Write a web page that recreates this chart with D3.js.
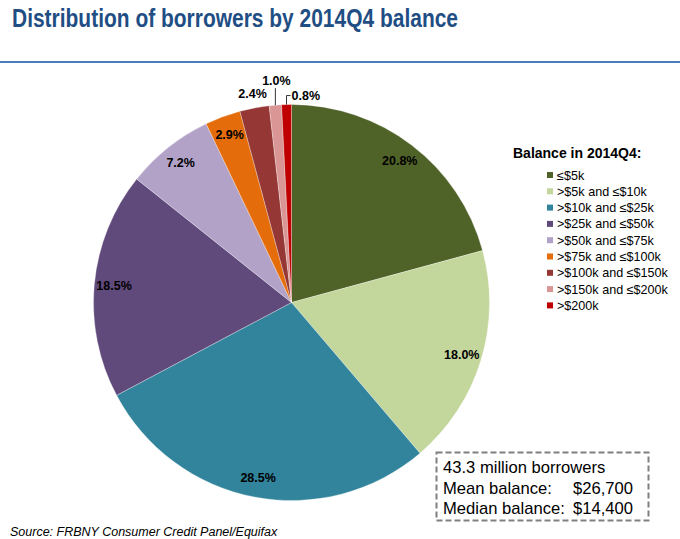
<!DOCTYPE html>
<html>
<head>
<meta charset="utf-8">
<script src="https://cdn.jsdelivr.net/npm/d3@7"></script>
<style>
  body { margin: 0; background: #fff; }
  text { font-family: "Liberation Sans", Arial, sans-serif; }
</style>
</head>
<body>
<svg id="chart" width="680" height="539"></svg>
<script>
// chart data
var categories = ['≤$5k', '>$5k and ≤$10k', '>$10k and ≤$25k', '>$25k and ≤$50k',
  '>$50k and ≤$75k', '>$75k and ≤$100k', '>$100k and ≤$150k', '>$150k and ≤$200k', '>$200k'];
var shares = [20.8, 18.0, 28.5, 18.5, 7.2, 2.9, 2.4, 1.0, 0.8];
var colors = ['#4F6228', '#C3D69B', '#31849B', '#604A7B', '#B3A2C7',
  '#E46C0A', '#953735', '#D99694', '#C00000'];
var summaryLines = ['43.3 million borrowers', 'Mean balance:', 'Median balance:'];
var summaryValues = ['', '$26,700', '$14,400'];

var svg = d3.select('#chart');
var cx = 291.5, cy = 302.5, r = 198;

// title and rule
svg.append('text')
  .attr('x', 12).attr('y', 27)
  .attr('font-size', 25).attr('font-weight', 'bold')
  .attr('fill', '#1F4E84')
  .attr('textLength', 446).attr('lengthAdjust', 'spacingAndGlyphs')
  .text('Distribution of borrowers by 2014Q4 balance');

svg.append('line')
  .attr('x1', 0).attr('x2', 680).attr('y1', 62).attr('y2', 62)
  .attr('stroke', '#4A7EBB').attr('stroke-width', 2);

// pie
var pie = d3.pie().sort(null).value(function(d) { return d; });
var arcs = pie(shares);
var arc = d3.arc().innerRadius(0).outerRadius(r);
var labelArc = d3.arc().innerRadius(r * 0.9).outerRadius(r * 0.9);
var outerArc = d3.arc().innerRadius(r + 10).outerRadius(r + 10);

var g = svg.append('g').attr('transform', 'translate(' + cx + ',' + cy + ')');

g.selectAll('path.slice')
  .data(arcs)
  .enter().append('path')
  .attr('class', 'slice')
  .attr('d', arc)
  .attr('fill', function(d, i) { return colors[i]; })
  .attr('stroke', 'rgba(255,255,255,0.5)')
  .attr('stroke-width', 0.6);

// labels: big slices inside, small ones outside
function fmt(v) { return v.toFixed(1) + '%'; }
var lblSize = 12.5;

arcs.forEach(function(d, i) {
  var mid = (d.startAngle + d.endAngle) / 2;
  var ex = Math.sin(mid) * r, ey = -Math.cos(mid) * r;
  if (d.value >= 2.5) {
    var c = labelArc.centroid(d);
    g.append('text')
      .attr('x', c[0]).attr('y', c[1] + 4)
      .attr('text-anchor', 'middle')
      .attr('font-size', lblSize).attr('font-weight', 'bold')
      .text(fmt(d.value));
  } else if (d.value >= 2) {
    var o = outerArc.centroid(d);
    g.append('text')
      .attr('x', o[0]).attr('y', o[1])
      .attr('text-anchor', 'middle')
      .attr('font-size', lblSize).attr('font-weight', 'bold')
      .text(fmt(d.value));
  } else if (d.value >= 1) {
    // straight leader up
    g.append('line')
      .attr('x1', ex).attr('y1', ey).attr('x2', ex).attr('y2', ey - 17)
      .attr('stroke', '#000').attr('stroke-width', 0.8);
    g.append('text')
      .attr('x', ex + 1).attr('y', ey - 20)
      .attr('text-anchor', 'middle')
      .attr('font-size', lblSize).attr('font-weight', 'bold')
      .text(fmt(d.value));
  } else {
    // hooked leader to the right
    g.append('path')
      .attr('d', 'M' + ex + ',' + ey + 'V' + (ey - 9) + 'h4')
      .attr('fill', 'none')
      .attr('stroke', '#000').attr('stroke-width', 0.8);
    g.append('text')
      .attr('x', ex + 5).attr('y', ey - 5)
      .attr('font-size', lblSize).attr('font-weight', 'bold')
      .text(fmt(d.value));
  }
});

// legend
svg.append('text')
  .attr('x', 513).attr('y', 158)
  .attr('font-size', 14).attr('font-weight', 'bold')
  .text('Balance in 2014Q4:');

var legend = svg.append('g').attr('transform', 'translate(547,175)');
var row = legend.selectAll('g')
  .data(categories)
  .enter().append('g')
  .attr('transform', function(d, i) { return 'translate(0,' + (i * 16.3) + ')'; });
row.append('rect')
  .attr('x', 0).attr('y', -3).attr('width', 6).attr('height', 6)
  .attr('fill', function(d, i) { return colors[i]; });
row.append('text')
  .attr('x', 10).attr('y', 4.5)
  .attr('font-size', 12.6)
  .text(function(d) { return d; });

// summary box
svg.append('rect')
  .attr('x', 436.5).attr('y', 452.5).attr('width', 212).attr('height', 68)
  .attr('fill', 'none').attr('stroke', '#808080')
  .attr('stroke-width', 2).attr('stroke-dasharray', '6,3');

summaryLines.forEach(function(t, i) {
  svg.append('text')
    .attr('x', 443).attr('y', 473 + i * 20.5)
    .attr('font-size', 16.6)
    .text(t);
  if (summaryValues[i]) {
    svg.append('text')
      .attr('x', 633).attr('y', 473 + i * 20.5)
      .attr('font-size', 16.6).attr('text-anchor', 'end')
      .text(summaryValues[i]);
  }
});

// source
svg.append('text')
  .attr('x', 10).attr('y', 536)
  .attr('font-size', 12.5).attr('font-style', 'italic')
  .text('Source: FRBNY Consumer Credit Panel/Equifax');
</script>
</body>
</html>
